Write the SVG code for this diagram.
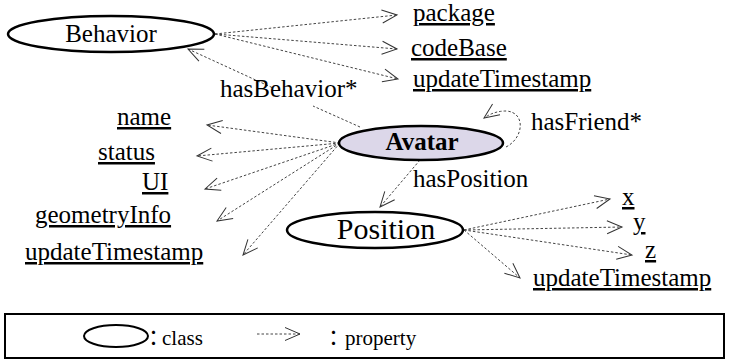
<svg xmlns="http://www.w3.org/2000/svg" width="729" height="361" viewBox="0 0 729 361" font-family="'Liberation Serif', 'DejaVu Serif', serif">
<style>
  text { font-family: "Liberation Serif", "DejaVu Serif", serif; font-size: 25px; fill: #000; }
  .prop { text-decoration: underline; }
  .cls { fill: #fff; stroke: #000; stroke-width: 2.5; }
  .conn { fill: none; stroke: #444; stroke-width: 1; stroke-dasharray: 2.5 2; marker-end: url(#ah); }
  .legend text { font-size: 21px; }
  .legend .colon { font-family: "Liberation Serif", "Noto Sans CJK JP", serif; }
</style>
<defs>
  <marker id="ah" markerUnits="userSpaceOnUse" viewBox="-17 -9 19 18" markerWidth="19" markerHeight="18" refX="0" refY="0" orient="auto">
    <path d="M-15,-6.5 L0,0 L-15,6.5" fill="none" stroke="#333" stroke-width="1" stroke-dasharray="none"/>
  </marker>
</defs>

<g id="connectors">
  <path class="conn" d="M215,34 L397,15"/>
  <path class="conn" d="M215,34 L397,49"/>
  <path class="conn" d="M215,34 L398,79"/>
  <path class="conn" d="M360,127 L313,106 M272,87.5 L188,49"/>
  <path class="conn" d="M340,143 L207,125"/>
  <path class="conn" d="M340,143 L197,156"/>
  <path class="conn" d="M340,143 L205,189"/>
  <path class="conn" d="M340,143 L217,221"/>
  <path class="conn" d="M340,143 L243,255"/>
  <path class="conn" d="M506,147 C524,138 526,112 506,111 Q494,111 484,118"/>
  <path class="conn" d="M420,160 L380,207"/>
  <path class="conn" d="M464,230 L610,199"/>
  <path class="conn" d="M464,230 L622,227"/>
  <path class="conn" d="M464,230 L632,255"/>
  <path class="conn" d="M464,230 L520,278"/>
</g>

<g id="Behavior">
  <ellipse class="cls" cx="111" cy="34" rx="103" ry="18"/>
  <text x="111" y="42" text-anchor="middle">Behavior</text>
</g>
<g id="Avatar">
  <ellipse class="cls" cx="421" cy="143" rx="82" ry="17" style="fill:#dcd7e9"/>
  <text x="422" y="150" text-anchor="middle" font-weight="bold">Avatar</text>
</g>
<g id="Position">
  <ellipse class="cls" cx="375" cy="230" rx="88" ry="18"/>
  <text x="386" y="239" text-anchor="middle" style="font-size:30px">Position</text>
</g>

<g id="Behavior-props">
  <text class="prop" x="413" y="21">package</text>
  <text class="prop" x="411" y="56">codeBase</text>
  <text class="prop" x="413" y="87">updateTimestamp</text>
</g>
<g id="Avatar-props">
  <text class="prop" x="117" y="125">name</text>
  <text class="prop" x="98" y="160">status</text>
  <text class="prop" x="142" y="190">UI</text>
  <text class="prop" x="35" y="223">geometryInfo</text>
  <text class="prop" x="25" y="260">updateTimestamp</text>
</g>
<g id="Position-props">
  <text class="prop" x="622" y="205">x</text>
  <text class="prop" x="633" y="230">y</text>
  <text class="prop" x="645" y="258">z</text>
  <text class="prop" x="533" y="286">updateTimestamp</text>
</g>
<g id="labels">
  <text x="220" y="97">hasBehavior*</text>
  <text x="531" y="130">hasFriend*</text>
  <text x="413" y="187">hasPosition</text>
</g>

<g id="legend" class="legend">
  <rect x="5" y="314" width="719" height="44" fill="#fff" stroke="#000" stroke-width="2"/>
  <ellipse cx="116" cy="336" rx="32" ry="11" fill="none" stroke="#000" stroke-width="2"/>
  <text x="143" y="345" class="colon">：</text>
  <text x="162" y="345">class</text>
  <path class="conn" d="M257,334 L300,334"/>
  <text x="323" y="345" class="colon">：</text>
  <text x="345" y="345">property</text>
</g>
</svg>
